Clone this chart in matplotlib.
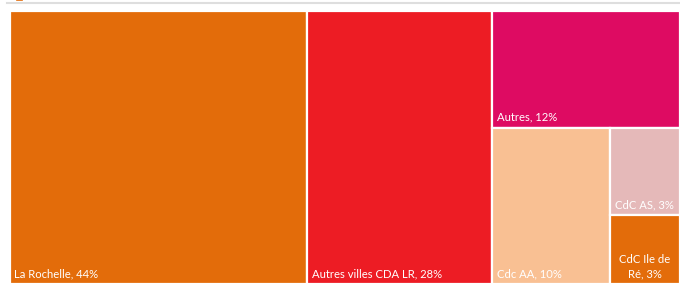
import matplotlib.pyplot as plt
from matplotlib.patches import Rectangle

# données (part en %)
labels = ["La Rochelle, 44%", "Autres villes CDA LR, 28%", "Autres, 12%",
          "Cdc AA, 10%", "CdC AS, 3%", "CdC Ile de\nRé, 3%"]
values = [44.2, 27.6, 11.9, 10.0, 3.3, 2.6]
colors = ["#E36C0A", "#ED1C24", "#DE0B62", "#F9C093", "#E5B9B9", "#E36C0A"]

# sens de découpe successif (v = tranche verticale, h = tranche horizontale)
splits = ["v", "v", "h", "v", "h"]


def layout(vals, x, y, w, h, dirs):
    rects = []
    rest = float(sum(vals))
    for i, v in enumerate(vals):
        if i == len(vals) - 1:
            rects.append((x, y, w, h))
            break
        frac = v / rest
        if dirs[i] == "v":
            ww = w * frac
            rects.append((x, y, ww, h))
            x += ww
            w -= ww
        else:
            hh = h * frac
            rects.append((x, y, w, hh))
            y += hh
            h -= hh
        rest -= v
    return rects


W, H = 680, 287
fig = plt.figure(figsize=(W / 100, H / 100), dpi=100)
ax = fig.add_axes([0, 0, 1, 1])
ax.set_xlim(0, W)
ax.set_ylim(H, 0)
ax.axis("off")

# ligne grise en haut
ax.plot([7, 680], [2.5, 2.5], color="#DEDEDE", lw=1.5)
ax.plot([17, 22], [0.3, 0.3], color="#E36C0A", lw=1.2)

rects = layout(values, 9.5, 10.5, 670, 273.5, splits)
for (x, y, w, h), lab, c in zip(rects, labels, colors):
    ax.add_patch(Rectangle((x, y), w, h, facecolor=c, edgecolor="white", lw=1.6))
    if "\n" in lab:
        ax.text(x + w / 2, y + h - 5, lab, color="white", fontsize=8.1,
                family="Lato", ha="center", va="bottom", linespacing=1.35)
    else:
        ax.text(x + 5, y + h - 5, lab, color="white", fontsize=8.1,
                family="Lato", ha="left", va="bottom")

fig.savefig("out.png", dpi=100)
